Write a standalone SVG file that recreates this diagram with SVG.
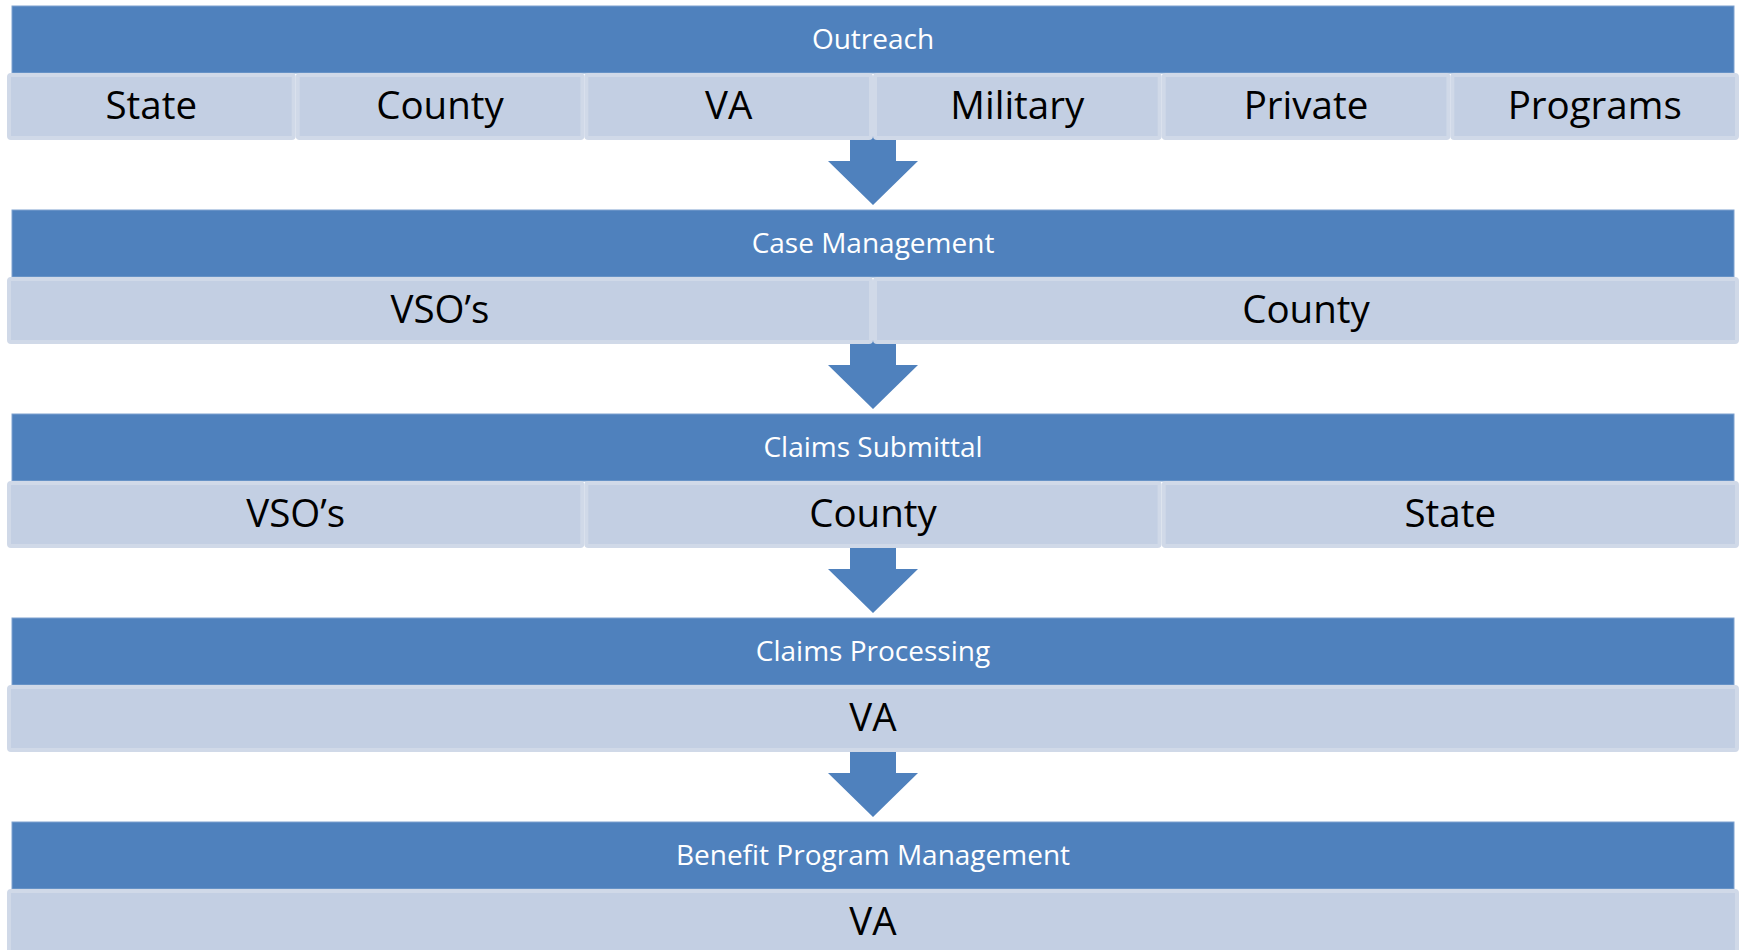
<svg xmlns="http://www.w3.org/2000/svg" width="1743" height="950" viewBox="0 0 1743 950">
<style>
.band{fill:#4F81BD;stroke:#7FA2CF;stroke-width:1}
.cell{fill:#C3CFE3;stroke:#D0D9E8;stroke-width:4}
.arrow{fill:#4F81BD}
.ht{font-family:"Open Sans","Liberation Sans",sans-serif;font-size:28px;fill:#FFFFFF;text-anchor:middle}
.ct{font-family:"Open Sans","Liberation Sans",sans-serif;font-size:38.5px;fill:#000000;text-anchor:middle}
</style>
<rect width="1743" height="950" fill="#FFFFFF"/>
<g id="connectors">
<polygon class="arrow" points="850,136 896,136 896,161 918,161 873,205 828,161 850,161"/>
<polygon class="arrow" points="850,340 896,340 896,365 918,365 873,409 828,365 850,365"/>
<polygon class="arrow" points="850,544 896,544 896,569 918,569 873,613 828,569 850,569"/>
<polygon class="arrow" points="850,748 896,748 896,773 918,773 873,817 828,773 850,773"/>
</g>
<g id="outreach">
<rect class="band" x="12" y="6" width="1722" height="67"/>
<text class="ht" x="873" y="49">Outreach</text>
<rect class="cell" x="9" y="75" width="284.7" height="63" rx="2"/>
<rect class="cell" x="297.7" y="75" width="284.7" height="63" rx="2"/>
<rect class="cell" x="586.3" y="75" width="284.7" height="63" rx="2"/>
<rect class="cell" x="875" y="75" width="284.7" height="63" rx="2"/>
<rect class="cell" x="1163.7" y="75" width="284.7" height="63" rx="2"/>
<rect class="cell" x="1452.3" y="75" width="284.7" height="63" rx="2"/>
<text class="ct" x="151.3" y="119">State</text>
<text class="ct" x="440" y="119">County</text>
<text class="ct" x="728.7" y="119">VA</text>
<text class="ct" x="1017.3" y="119">Military</text>
<text class="ct" x="1306" y="119">Private</text>
<text class="ct" x="1594.7" y="119">Programs</text>
</g>
<g id="case-management">
<rect class="band" x="12" y="210" width="1722" height="67"/>
<text class="ht" x="873" y="253">Case Management</text>
<rect class="cell" x="9" y="279" width="862" height="63" rx="2"/>
<rect class="cell" x="875" y="279" width="862" height="63" rx="2"/>
<text class="ct" x="440" y="323">VSO’s</text>
<text class="ct" x="1306" y="323">County</text>
</g>
<g id="claims-submittal">
<rect class="band" x="12" y="414" width="1722" height="67"/>
<text class="ht" x="873" y="457">Claims Submittal</text>
<rect class="cell" x="9" y="483" width="573.3" height="63" rx="2"/>
<rect class="cell" x="586.3" y="483" width="573.3" height="63" rx="2"/>
<rect class="cell" x="1163.7" y="483" width="573.3" height="63" rx="2"/>
<text class="ct" x="295.7" y="527">VSO’s</text>
<text class="ct" x="873" y="527">County</text>
<text class="ct" x="1450.3" y="527">State</text>
</g>
<g id="claims-processing">
<rect class="band" x="12" y="618" width="1722" height="67"/>
<text class="ht" x="873" y="661">Claims Processing</text>
<rect class="cell" x="9" y="687" width="1728" height="63" rx="2"/>
<text class="ct" x="873" y="731">VA</text>
</g>
<g id="benefit-program-management">
<rect class="band" x="12" y="822" width="1722" height="67"/>
<text class="ht" x="873" y="865">Benefit Program Management</text>
<rect class="cell" x="9" y="891" width="1728" height="63" rx="2"/>
<text class="ct" x="873" y="935">VA</text>
</g>
</svg>
